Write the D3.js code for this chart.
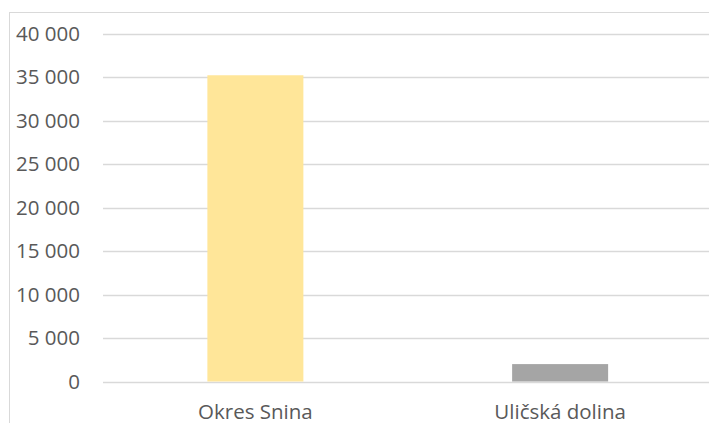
<!DOCTYPE html>
<html>
<head>
<meta charset="utf-8">
<script src="https://cdn.jsdelivr.net/npm/d3@7"></script>
<style>
  html, body { margin: 0; padding: 0; background: #fff; overflow: hidden; }
  text { font-family: "Open Sans", sans-serif; fill: #595959; }
</style>
</head>
<body>
<script>
const categories = ['Okres Snina', 'Uličská dolina']
const values = [35200, 2000]
const barColors = ['#FFE699', '#A5A5A5']
const yTicks = [0, 5000, 10000, 15000, 20000, 25000, 30000, 35000, 40000]

const width = 709
const height = 423
const margin = { top: 33.5, right: -3.5, bottom: 41.5, left: 103 }
const FONT_SIZE = 20.5

const svg = d3.select('body')
  .append('svg')
  .attr('width', width)
  .attr('height', height)

// chart frame (runs off the right and bottom edges)
svg.append('rect')
  .attr('x', 9.5)
  .attr('y', 12.5)
  .attr('width', width + 20)
  .attr('height', height + 20)
  .attr('fill', 'none')
  .attr('stroke', '#D9D9D9')
  .attr('stroke-width', 1)

const x = d3.scaleBand()
  .domain(categories)
  .range([margin.left, width - margin.right])
  .paddingInner(0.685)
  .paddingOuter(0.3425)

const y = d3.scaleLinear()
  .domain([0, 40000])
  .range([height - margin.bottom, margin.top])

const fmt = v => d3.format(',')(v).replace(/,/g, ' ')

// gridlines
svg.append('g')
  .selectAll('line')
  .data(yTicks)
  .join('line')
  .attr('x1', margin.left)
  .attr('x2', width - margin.right)
  .attr('y1', d => Math.round(y(d)) + 0.5)
  .attr('y2', d => Math.round(y(d)) + 0.5)
  .attr('stroke', '#D9D9D9')
  .attr('stroke-width', 1.3)

// bars
svg.append('g')
  .selectAll('rect')
  .data(values)
  .join('rect')
  .attr('x', (d, i) => x(categories[i]))
  .attr('y', d => y(d))
  .attr('width', x.bandwidth())
  .attr('height', d => y(0) - y(d))
  .attr('fill', (d, i) => barColors[i])

// y axis labels
const yAxis = svg.append('g')
  .attr('transform', `translate(80, 0)`)
  .call(d3.axisLeft(y).tickValues(yTicks).tickFormat(fmt).tickSize(0).tickPadding(0))
yAxis.select('.domain').remove()
yAxis.selectAll('text')
  .attr('font-size', FONT_SIZE)
  .attr('font-family', '"Open Sans", sans-serif')
  .attr('fill', '#595959')

// x axis labels
const xAxis = svg.append('g')
  .attr('transform', `translate(0, ${y(0)})`)
  .call(d3.axisBottom(x).tickSize(0).tickPadding(0))
xAxis.select('.domain').remove()
xAxis.selectAll('text')
  .attr('dy', null)
  .attr('y', 37.5)
  .attr('font-size', FONT_SIZE)
  .attr('font-family', '"Open Sans", sans-serif')
  .attr('fill', '#595959')
</script>
</body>
</html>
